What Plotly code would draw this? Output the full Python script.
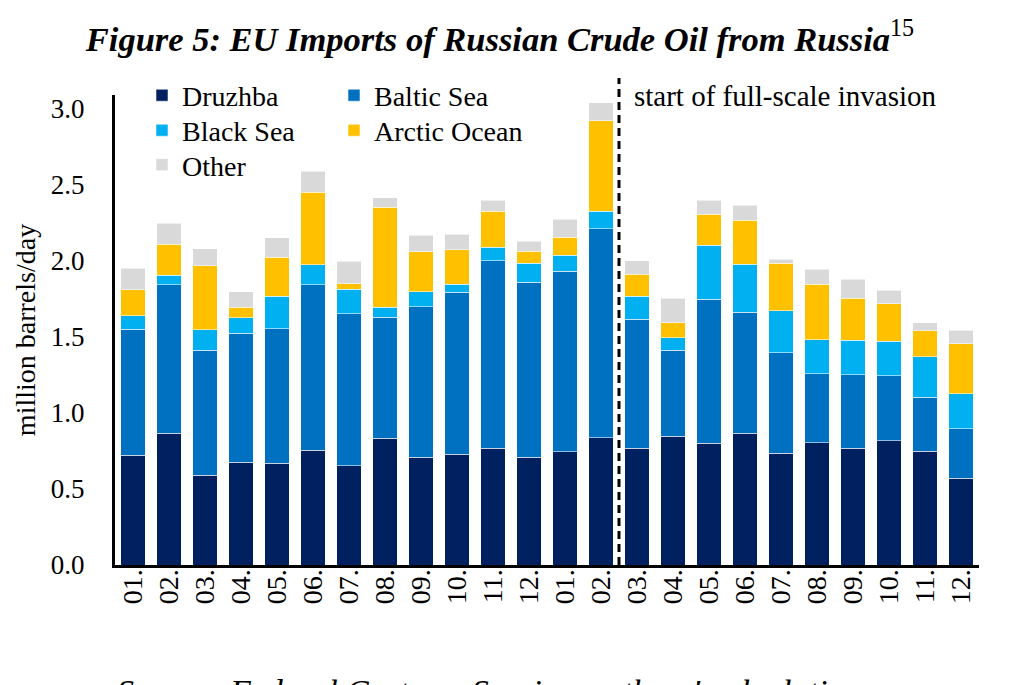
import plotly.graph_objects as go

# Months Jan 2021 - Dec 2022
months = ["01.", "02.", "03.", "04.", "05.", "06.", "07.", "08.", "09.", "10.", "11.", "12.",
          "01.", "02.", "03.", "04.", "05.", "06.", "07.", "08.", "09.", "10.", "11.", "12."]
# x positions as "yyyy-mm" so the repeated month labels stay distinct
periods = ["2021-%02d" % m for m in range(1, 13)] + ["2022-%02d" % m for m in range(1, 13)]

# million barrels/day
druzhba = [0.72, 0.865, 0.59, 0.674, 0.668, 0.755, 0.654, 0.832, 0.707, 0.729, 0.766, 0.709,
           0.746, 0.836, 0.766, 0.845, 0.801, 0.865, 0.735, 0.803, 0.766, 0.818, 0.749, 0.569]
baltic = [0.83, 0.978, 0.823, 0.849, 0.884, 1.088, 0.999, 0.798, 0.992, 1.064, 1.234, 1.149,
          1.184, 1.375, 0.849, 0.567, 0.946, 0.798, 0.659, 0.456, 0.484, 0.425, 0.354, 0.328]
black_sea = [0.09, 0.063, 0.133, 0.101, 0.216, 0.131, 0.161, 0.066, 0.096, 0.054, 0.09, 0.127,
             0.107, 0.115, 0.153, 0.083, 0.356, 0.315, 0.276, 0.223, 0.229, 0.228, 0.265, 0.228]
arctic = [0.17, 0.204, 0.423, 0.072, 0.254, 0.477, 0.036, 0.655, 0.265, 0.226, 0.236, 0.079,
          0.117, 0.596, 0.145, 0.098, 0.204, 0.287, 0.315, 0.365, 0.276, 0.245, 0.171, 0.328]
other = [0.14, 0.138, 0.111, 0.101, 0.13, 0.138, 0.146, 0.065, 0.107, 0.1, 0.071, 0.065,
         0.12, 0.116, 0.087, 0.16, 0.092, 0.099, 0.024, 0.099, 0.123, 0.092, 0.054, 0.09]

# name, values, colour, (legend column, legend row)
series = [
    ("Druzhba", druzhba, "#002060", (0, 0)),
    ("Baltic Sea", baltic, "#0070C0", (1, 0)),
    ("Black Sea", black_sea, "#00B0F0", (0, 1)),
    ("Arctic Ocean", arctic, "#FFC000", (1, 1)),
    ("Other", other, "#D9D9D9", (0, 2)),
]

FONT = "Liberation Serif"


def serif(size):
    return dict(family=FONT, size=size, color="black")


# plot area: left 107, right 971, top 87, bottom 557 (page pixels)
legend_cols = [(134 - 107) / 864, (326 - 107) / 864]
legend_rows = [(557 - 87.5) / 470, (557 - 122.5) / 470, (557 - 157) / 470]

fig = go.Figure()
legends = {}
for i, (name, vals, color, (col, row)) in enumerate(series):
    key = "legend" if i == 0 else "legend%d" % (i + 1)
    fig.add_trace(go.Bar(x=periods, y=vals, name=name, legend=key,
                         marker=dict(color=color, line=dict(color="rgba(255,255,255,0.55)", width=1))))
    legends[key] = dict(x=legend_cols[col], y=legend_rows[row], xanchor="left", yanchor="middle",
                        font=serif(28), bgcolor="rgba(0,0,0,0)")

fig.update_layout(
    width=1015, height=685,
    margin=dict(l=107, r=44, t=87, b=128, autoexpand=False),
    paper_bgcolor="white", plot_bgcolor="white",
    barmode="stack", bargap=0.33,
    font=serif(27),
    title=dict(text="<b><i>Figure 5: EU Imports of Russian Crude Oil from Russia</i></b><sup>15</sup>",
               x=0.4847, xanchor="center", xref="container", y=0.955, yanchor="middle",
               font=serif(34.5)),
    showlegend=True,
    **legends,
)

fig.update_xaxes(type="category", tickmode="array", tickvals=periods, ticktext=months,
                 tickangle=-90, showline=True, linecolor="black", linewidth=3,
                 showgrid=False, ticks="", tickfont=serif(28), ticklabelstandoff=-10,
                 automargin=False)
fig.update_yaxes(range=[0, 3.09], tickvals=[0, 0.5, 1.0, 1.5, 2.0, 2.5, 3.0], tickformat=".1f",
                 showline=True, linecolor="black", linewidth=3, showgrid=False, zeroline=False,
                 ticks="", ticklabelstandoff=22, tickfont=serif(27), automargin=False,
                 title=dict(text="million barrels/day", font=serif(28), standoff=8))

# Dashed marker between Feb and Mar 2022
fig.add_shape(type="line", xref="x", yref="paper", x0=13.5, x1=13.5, y0=0, y1=1.036,
              line=dict(color="black", width=3, dash="8px,5px"))
fig.add_annotation(text="start of full-scale invasion", xref="paper", yref="paper",
                   x=(624 - 107) / 864, y=0.997, xanchor="left", yanchor="middle",
                   showarrow=False, font=serif(29))

# Source line, cut off at the bottom edge like the reference
fig.add_annotation(text="<i>Source: Federal Customs Service, authors' calculations</i>",
                   xref="paper", yref="paper", x=0, y=-(662.5 - 557) / 470,
                   xanchor="left", yanchor="top", showarrow=False, font=serif(34))

fig.write_html("out.html")
